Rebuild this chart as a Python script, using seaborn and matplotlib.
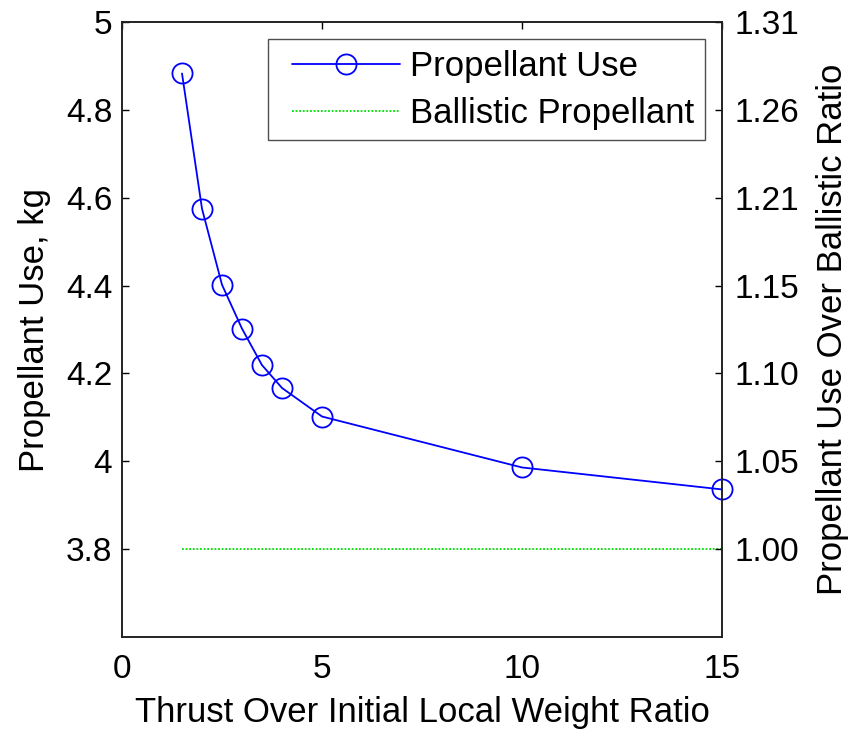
import matplotlib
matplotlib.use("Agg")
import matplotlib.pyplot as plt
from matplotlib.legend_handler import HandlerLine2D
import seaborn as sns
import pandas as pd

# Thrust-to-weight ratio vs. propellant consumed
thrust_ratio = [1.5, 2.0, 2.5, 3.0, 3.5, 4.0, 5.0, 10.0, 15.0]
propellant_kg = [4.883, 4.575, 4.402, 4.302, 4.219, 4.167, 4.102, 3.986, 3.936]

# Ballistic (impulsive) reference propellant
ballistic_x = [1.5, 15.0]
ballistic_kg = [3.8, 3.8]

left_ticks = [3.8, 4.0, 4.2, 4.4, 4.6, 4.8, 5.0]
left_labels = ["3.8", "4", "4.2", "4.4", "4.6", "4.8", "5"]
ratio_labels = ["1.00", "1.05", "1.10", "1.15", "1.21", "1.26", "1.31"]
x_ticks = [0, 5, 10, 15]

sns.set_style("white")
plt.rcParams["font.family"] = ["Liberation Sans", "DejaVu Sans"]
plt.rcParams["text.color"] = "black"
plt.rcParams["axes.labelcolor"] = "black"
TICK_FS = 24
LABEL_FS = 25


class PaddedLine(HandlerLine2D):
    """Legend line handler leaving a small gap before the sample line."""

    def create_artists(self, legend, orig_handle, xdescent, ydescent,
                       width, height, fontsize, trans):
        pad = 0.4 * fontsize
        return super().create_artists(legend, orig_handle, xdescent - pad,
                                      ydescent, width - pad, height,
                                      fontsize, trans)


fig = plt.figure(figsize=(8.55, 7.36), dpi=100)
ax = fig.add_axes([0.1427, 0.1345, 0.7017, 0.8355])

df_use = pd.DataFrame({"x": thrust_ratio, "y": propellant_kg})
df_bal = pd.DataFrame({"x": ballistic_x, "y": ballistic_kg})

sns.lineplot(data=df_use, x="x", y="y", ax=ax, color="#0000ff", linewidth=1.3,
             marker="o", markersize=14.5, markerfacecolor="none",
             markeredgecolor="#0000ff", markeredgewidth=1.3,
             label="Propellant Use", clip_on=False)
sns.lineplot(data=df_bal, x="x", y="y", ax=ax, color="#00dd00", linewidth=1.3,
             linestyle=(0, (1, 1)), label="Ballistic Propellant")

ax.set_xlim(0, 15)
ax.set_ylim(3.6, 5.0)
ax.set_xticks(x_ticks)
ax.set_xticklabels([str(t) for t in x_ticks])
ax.set_yticks(left_ticks)
ax.set_yticklabels(left_labels)
ax.tick_params(axis="both", direction="in", length=5, width=1, colors="black",
               labelsize=TICK_FS, top=True, pad=7)
ax.tick_params(axis="x", pad=12)
ax.set_xlabel("Thrust Over Initial Local Weight Ratio", fontsize=LABEL_FS,
              labelpad=8)
ax.set_ylabel("Propellant Use, kg", fontsize=LABEL_FS, labelpad=11)
for s in ax.spines.values():
    s.set_visible(True)
    s.set_color("#222222")
    s.set_linewidth(1.2)

ax2 = ax.twinx()
ax2.set_ylim(3.6, 5.0)
ax2.set_yticks(left_ticks)
ax2.set_yticklabels(ratio_labels)
ax2.tick_params(axis="y", direction="in", length=5, width=1, colors="black",
                labelsize=TICK_FS, pad=9)
ax2.set_ylabel("Propellant Use Over Ballistic Ratio", fontsize=LABEL_FS,
               labelpad=12)
for s in ax2.spines.values():
    s.set_color("#222222")
    s.set_linewidth(1.2)

handles, labels = ax.get_legend_handles_labels()
leg = ax.legend(handles, labels, loc="upper right", fontsize=LABEL_FS,
                frameon=True, fancybox=False, handlelength=3.5,
                handletextpad=0.3, borderaxespad=0.5, borderpad=0.3,
                labelspacing=0.4,
                handler_map={h: PaddedLine() for h in handles})
leg.get_frame().set_edgecolor("#222222")
leg.get_frame().set_linewidth(1.0)
leg.set_zorder(5)

fig.savefig("out.png", dpi=100, facecolor="white")
